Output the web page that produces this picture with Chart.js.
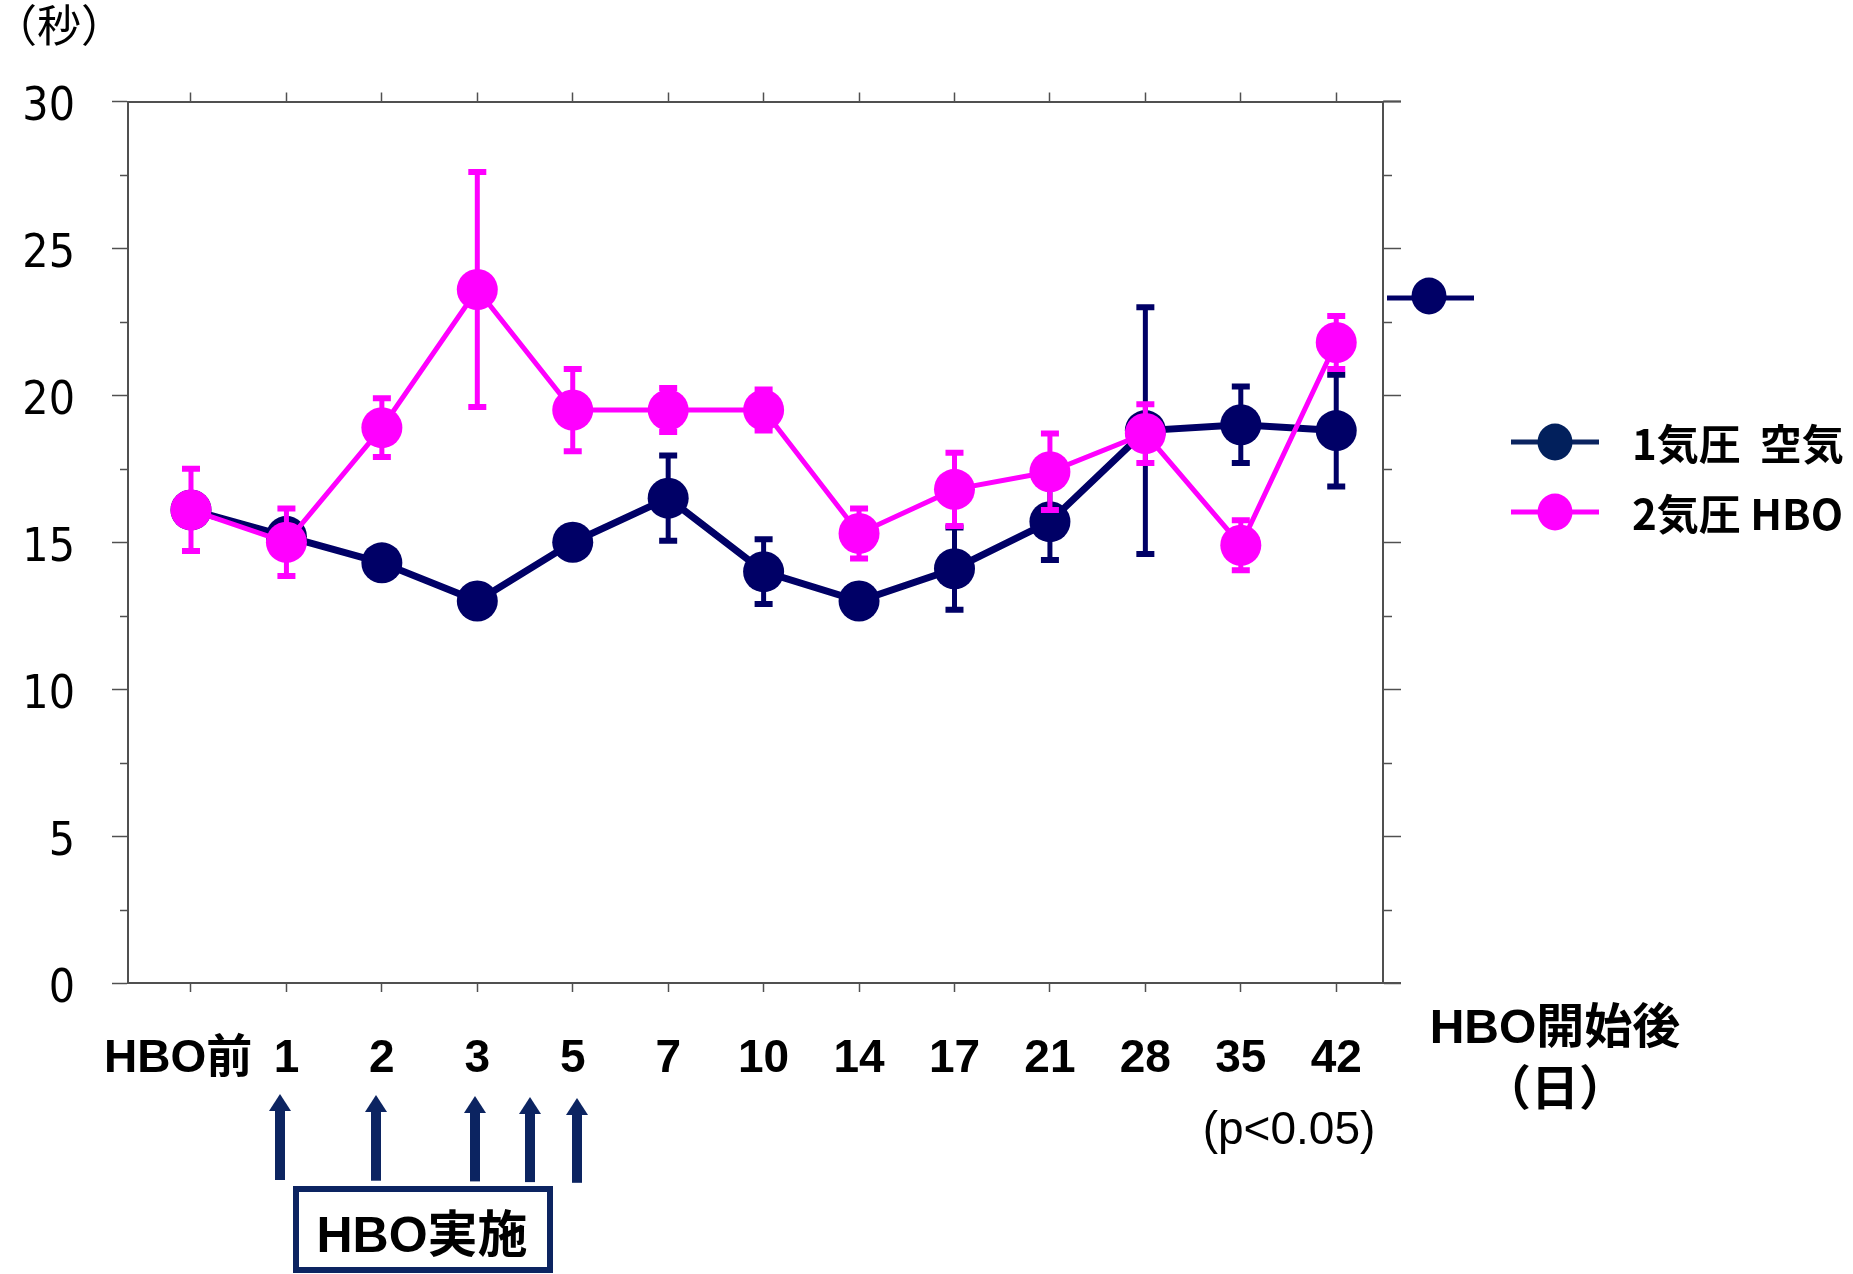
<!DOCTYPE html>
<html>
<head>
<meta charset="utf-8">
<script src="https://cdn.jsdelivr.net/npm/chart.js@4.4.1/dist/chart.umd.min.js"></script>
<style>
  html, body { margin: 0; padding: 0; background: #fff; }
  #wrap { width: 1853px; height: 1274px; }
</style>
</head>
<body>
<div id="wrap"><canvas id="myChart" width="1853" height="1274"></canvas></div>
<script>
// days after HBO start
const dayLabels = ['HBO前', '1', '2', '3', '5', '7', '10', '14', '17', '21', '28', '35', '42'];
// 1気圧 空気
const airMean = [16.1, 15.2, 14.3, 13.0, 15.0, 16.5, 14.0, 13.0, 14.1, 15.7, 18.8, 19.0, 18.8];
const airErr  = [0.3, 0.3, 0.2, 0.2, 0.3, 1.45, 1.1, 0.2, 1.4, 1.3, 4.2, 1.3, 1.9];
// 2気圧 HBO
const hboMean = [16.1, 15.0, 18.9, 23.6, 19.5, 19.5, 19.5, 15.3, 16.8, 17.4, 18.7, 14.9, 21.8];
const hboErr  = [1.4, 1.15, 1.0, 4.0, 1.4, 0.75, 0.7, 0.85, 1.25, 1.3, 1.0, 0.85, 0.9];
const yTicks = [0, 5, 10, 15, 20, 25, 30];
const yMinorTicks = [2.5, 7.5, 12.5, 17.5, 22.5, 27.5];

const NAVY = '#000066';
const PINK = '#ff00ff';
const AXIS = '#505050';
const ARROW = '#0c2461';
const numFont = '"DejaVu Sans", "Liberation Sans", sans-serif';
const boldFont = '"Liberation Sans", "Noto Sans CJK JP", sans-serif';
const cjkFont = '"Noto Sans CJK JP", sans-serif';

function points(vals) {
  return vals.map((v, i) => ({ x: i, y: v }));
}

// error bars drawn under each dataset
const errorBars = {
  id: 'errorBars',
  beforeDatasetDraw(chart, args) {
    const ds = chart.data.datasets[args.index];
    const ys = chart.scales.y;
    const ctx = chart.ctx;
    ctx.save();
    ctx.strokeStyle = ds.borderColor;
    ctx.lineCap = 'butt';
    args.meta.data.forEach((pt, i) => {
      const e = ds.errors[i];
      if (!e) return;
      const v = ds.data[i].y;
      const top = ys.getPixelForValue(v + e);
      const bot = ys.getPixelForValue(v - e);
      ctx.lineWidth = 5;
      ctx.beginPath();
      ctx.moveTo(pt.x, top);
      ctx.lineTo(pt.x, bot);
      ctx.stroke();
      ctx.lineWidth = 6;
      ctx.beginPath();
      ctx.moveTo(pt.x - 9, top); ctx.lineTo(pt.x + 9, top);
      ctx.moveTo(pt.x - 9, bot); ctx.lineTo(pt.x + 9, bot);
      ctx.stroke();
    });
    ctx.restore();
  }
};

function arrowUp(ctx, x, tip, bottom) {
  ctx.fillStyle = ARROW;
  ctx.fillRect(x - 5, tip + 14, 10, bottom - tip - 14);
  ctx.beginPath();
  ctx.moveTo(x, tip);
  ctx.lineTo(x + 11, tip + 17);
  ctx.lineTo(x - 11, tip + 17);
  ctx.closePath();
  ctx.fill();
}

function legendRow(ctx, y, color, markColor, text) {
  ctx.strokeStyle = color;
  ctx.lineWidth = 5;
  ctx.beginPath();
  ctx.moveTo(1511, y); ctx.lineTo(1599, y);
  ctx.stroke();
  ctx.fillStyle = markColor;
  ctx.beginPath();
  ctx.ellipse(1555, y, 17.5, 18.5, 0, 0, Math.PI * 2);
  ctx.fill();
  ctx.fillStyle = '#000';
  ctx.font = 'bold 42px ' + cjkFont;
  ctx.textAlign = 'left';
  ctx.textBaseline = 'middle';
  ctx.fillText(text, 1632, y + 2);
}

const decorations = {
  id: 'decorations',
  afterDraw(chart) {
    const ctx = chart.ctx;
    const ys = chart.scales.y;
    const { left, right, top, bottom } = chart.chartArea;
    ctx.save();
    // minor ticks, left and right
    ctx.strokeStyle = AXIS;
    ctx.lineWidth = 1.5;
    yMinorTicks.forEach(v => {
      const py = Math.round(ys.getPixelForValue(v)) + 0.5;
      ctx.beginPath();
      ctx.moveTo(left - 8, py); ctx.lineTo(left, py);
      ctx.moveTo(right, py); ctx.lineTo(right + 9, py);
      ctx.stroke();
    });
    // top / bottom frame run past the right axis
    ctx.lineWidth = 2;
    ctx.beginPath();
    ctx.moveTo(right, top); ctx.lineTo(right + 18, top);
    ctx.moveTo(right, bottom); ctx.lineTo(right + 18, bottom);
    ctx.stroke();

    // unit
    ctx.fillStyle = '#000';
    ctx.font = '44px ' + cjkFont;
    ctx.textAlign = 'center';
    ctx.textBaseline = 'middle';
    ctx.fillText('（秒）', 59, 25);

    // stray marker right of the plot
    ctx.strokeStyle = NAVY;
    ctx.lineWidth = 5;
    ctx.beginPath();
    ctx.moveTo(1387, 298); ctx.lineTo(1474, 298);
    ctx.stroke();
    ctx.fillStyle = NAVY;
    ctx.beginPath();
    ctx.ellipse(1429, 296, 17.5, 18.5, 0, 0, Math.PI * 2);
    ctx.fill();

    // legend
    legendRow(ctx, 442, '#0b2460', '#02205c', '1気圧  空気');
    legendRow(ctx, 512, PINK, PINK, '2気圧 HBO');

    // axis caption
    ctx.fillStyle = '#000';
    ctx.textAlign = 'center';
    ctx.font = 'bold 48px ' + boldFont;
    ctx.fillText('HBO開始後', 1555, 1030);
    ctx.fillText('（日）', 1555, 1092);
    ctx.font = '46px "Liberation Sans", sans-serif';
    ctx.fillText('(p<0.05)', 1289, 1131);

    // HBO sessions
    [280, 376, 475, 530, 577].forEach((x, i) => {
      arrowUp(ctx, x, 1094 + i, 1180 + i * 0.7);
    });
    ctx.strokeStyle = ARROW;
    ctx.lineWidth = 6;
    ctx.strokeRect(296, 1189, 254, 81);
    ctx.fillStyle = '#000';
    ctx.font = 'bold 50px ' + boldFont;
    ctx.fillText('HBO実施', 422, 1238);
    ctx.restore();
  }
};

const xMin = -0.66, xMax = 12.49;
const xTickSetup = s => { s.ticks = dayLabels.map((_, i) => ({ value: i })); };
const yTickSetup = s => { s.ticks = yTicks.map(v => ({ value: v })); };

const data = {
  datasets: [
    {
      label: '1気圧 空気',
      data: points(airMean),
      errors: airErr,
      borderColor: NAVY,
      backgroundColor: NAVY,
      borderWidth: 7,
      pointRadius: 20.5,
      pointBorderWidth: 0,
      pointBackgroundColor: NAVY,
      xAxisID: 'x',
      yAxisID: 'y',
      order: 1
    },
    {
      label: '2気圧 HBO',
      data: points(hboMean),
      errors: hboErr,
      borderColor: PINK,
      backgroundColor: PINK,
      borderWidth: 5,
      pointRadius: 20.5,
      pointBorderWidth: 0,
      pointBackgroundColor: PINK,
      xAxisID: 'x',
      yAxisID: 'y',
      order: 0
    }
  ]
};

const config = {
  type: 'line',
  data,
  options: {
    responsive: false,
    animation: false,
    devicePixelRatio: 1,
    layout: { padding: 0 },
    plugins: { legend: { display: false }, tooltip: { enabled: false } },
    scales: {
      x: {
        type: 'linear', position: 'bottom', min: xMin, max: xMax,
        afterBuildTicks: xTickSetup,
        afterFit: s => { s.height = 291; },
        grid: { drawOnChartArea: false, drawTicks: true, tickLength: 9, tickColor: AXIS, tickWidth: 1.5 },
        border: { display: true, color: AXIS, width: 2 },
        ticks: {
          autoSkip: false, maxRotation: 0, padding: 40, color: '#000',
          font: { family: boldFont, size: 46, weight: 'bold' },
          callback: v => v === 0 ? dayLabels[0] + '  ' : dayLabels[v]
        }
      },
      x2: {
        type: 'linear', axis: 'x', position: 'top', min: xMin, max: xMax,
        afterBuildTicks: xTickSetup,
        afterFit: s => { s.height = 101.5; },
        grid: { drawOnChartArea: false, drawTicks: true, tickLength: 9, tickColor: AXIS, tickWidth: 1.5 },
        border: { display: true, color: AXIS, width: 2 },
        ticks: { display: false }
      },
      y: {
        type: 'linear', position: 'left', min: 0, max: 30,
        afterBuildTicks: yTickSetup,
        afterFit: s => { s.width = 128; },
        grid: { drawOnChartArea: false, drawTicks: true, tickLength: 16, tickColor: AXIS, tickWidth: 1.5 },
        border: { display: true, color: AXIS, width: 2 },
        ticks: {
          padding: 37, color: '#000', labelOffset: 7,
          font: { family: numFont, size: 46, weight: 'condensed' }
        }
      },
      y2: {
        type: 'linear', axis: 'y', position: 'right', min: 0, max: 30,
        afterBuildTicks: yTickSetup,
        afterFit: s => { s.width = 470; },
        grid: { drawOnChartArea: false, drawTicks: true, tickLength: 18, tickColor: AXIS, tickWidth: 1.5 },
        border: { display: true, color: AXIS, width: 2 },
        ticks: { display: false }
      }
    }
  },
  plugins: [errorBars, decorations]
};

const myChart = new Chart(document.getElementById('myChart'), config);
</script>
</body>
</html>
